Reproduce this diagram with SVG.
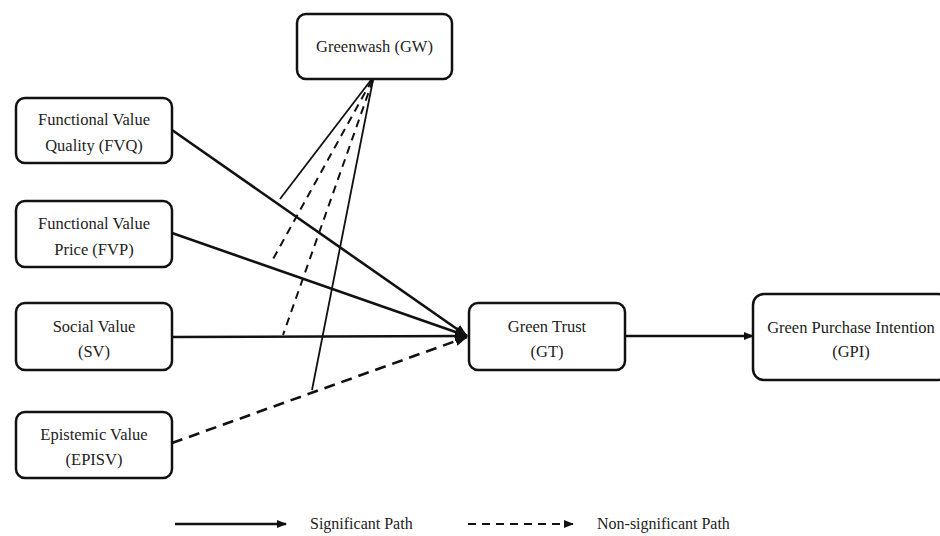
<svg xmlns="http://www.w3.org/2000/svg" width="940" height="536" viewBox="0 0 940 536">
<defs>
<style>
.box{fill:#fff;stroke:#111;stroke-width:2.5}
.t{font-family:"Liberation Serif","Times New Roman",serif;font-size:16.5px;fill:#222;text-anchor:middle}
.lg{font-family:"Liberation Serif","Times New Roman",serif;font-size:16px;fill:#222}
.sig{fill:none;stroke:#111;stroke-width:2.6}
.ns{fill:none;stroke:#111;stroke-width:2.6;stroke-dasharray:11 7}
.mod{fill:none;stroke:#111;stroke-width:1.8}
.modd{fill:none;stroke:#111;stroke-width:2;stroke-dasharray:8 6}
</style>
<marker id="ah" markerUnits="userSpaceOnUse" markerWidth="14" markerHeight="10" refX="12" refY="5" orient="auto">
<path d="M0,0 L13,5 L0,10 z" fill="#111"/>
</marker>
<marker id="ahs" markerUnits="userSpaceOnUse" markerWidth="10" markerHeight="8" refX="9" refY="4" orient="auto">
<path d="M0,0 L10,4 L0,8 z" fill="#111"/>
</marker>
</defs>
<rect width="940" height="536" fill="#fff"/>

<g id="connectors">
<line class="sig" x1="172" y1="130" x2="467" y2="336" marker-end="url(#ah)"/>
<line class="sig" x1="172" y1="233" x2="467" y2="336" marker-end="url(#ah)"/>
<line class="sig" x1="172" y1="337" x2="467" y2="336" marker-end="url(#ah)"/>
<line class="ns" x1="172" y1="443" x2="467" y2="337" marker-end="url(#ah)"/>
<line class="sig" x1="625" y1="336" x2="753" y2="336" marker-end="url(#ahs)"/>
<line class="mod" x1="371" y1="80" x2="280" y2="199"/>
<line class="modd" x1="372" y1="80" x2="272" y2="261"/>
<line class="modd" x1="373" y1="80" x2="283" y2="335"/>
<line class="mod" x1="373" y1="80" x2="312" y2="390"/>
</g>

<g id="GW">
<rect class="box" x="297" y="14" width="155" height="65" rx="9"/>
<text class="t" x="374.5" y="52">Greenwash (GW)</text>
</g>
<g id="FVQ">
<rect class="box" x="16" y="98" width="156" height="65" rx="9"/>
<text class="t" x="94" y="125">Functional Value</text>
<text class="t" x="94" y="151">Quality (FVQ)</text>
</g>
<g id="FVP">
<rect class="box" x="16" y="201" width="156" height="66" rx="9"/>
<text class="t" x="94" y="229">Functional Value</text>
<text class="t" x="94" y="255">Price (FVP)</text>
</g>
<g id="SV">
<rect class="box" x="16" y="303" width="156" height="67" rx="9"/>
<text class="t" x="94" y="332">Social Value</text>
<text class="t" x="94" y="357">(SV)</text>
</g>
<g id="EPISV">
<rect class="box" x="16" y="412" width="156" height="66" rx="9"/>
<text class="t" x="94" y="440">Epistemic Value</text>
<text class="t" x="94" y="465">(EPISV)</text>
</g>
<g id="GT">
<rect class="box" x="469" y="303" width="156" height="67" rx="9"/>
<text class="t" x="547" y="332">Green Trust</text>
<text class="t" x="547" y="357">(GT)</text>
</g>
<g id="GPI">
<rect class="box" x="753" y="294" width="196" height="86" rx="11"/>
<text class="t" x="851" y="333">Green Purchase Intention</text>
<text class="t" x="851" y="357">(GPI)</text>
</g>

<g id="legend">
<line class="sig" x1="175" y1="524" x2="286" y2="524" marker-end="url(#ahs)"/>
<text class="lg" x="310" y="529">Significant Path</text>
<line class="ns" style="stroke-dasharray:8 6;stroke-width:2.2" x1="468" y1="524" x2="573" y2="524" marker-end="url(#ahs)"/>
<text class="lg" x="597" y="529">Non-significant Path</text>
</g>
</svg>
